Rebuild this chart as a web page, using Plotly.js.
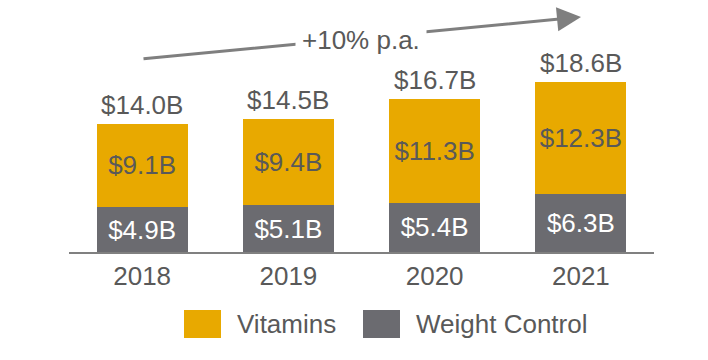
<!DOCTYPE html>
<html>
<head>
<meta charset="utf-8">
<script src="https://cdn.plot.ly/plotly-3.0.1.min.js"></script>
<style>html,body{margin:0;padding:0;background:#fff;}#chart{width:708px;height:360px;}</style>
</head>
<body>
<div id="chart"></div>
<script>
const years = ['2018', '2019', '2020', '2021'];
const weightControl = [4.9, 5.1, 5.4, 6.3];
const vitamins = [9.1, 9.4, 11.3, 12.3];
const totals = [14.0, 14.5, 16.7, 18.6];
const growthLabel = '+10% p.a.';

const GOLD = '#E8A900';
const GRAY = '#6B6B70';
const TXT = '#595959';
const FONT = '"Liberation Sans", Arial, sans-serif';
const FS = 26;
const fmt = v => '$' + v.toFixed(1) + 'B';

const traces = [
  {type: 'bar', name: 'Weight Control', x: years, y: weightControl,
   marker: {color: GRAY}, text: weightControl.map(fmt), textposition: 'inside',
   insidetextanchor: 'middle', textfont: {color: '#ffffff', size: FS, family: FONT},
   hoverinfo: 'none', showlegend: false},
  {type: 'bar', name: 'Vitamins', x: years, y: vitamins,
   marker: {color: GOLD}, text: vitamins.map(fmt), textposition: 'inside',
   insidetextanchor: 'middle', textfont: {color: TXT, size: FS, family: FONT},
   hoverinfo: 'none', showlegend: false}
];

const L = 69, R = 54, W = 708 - L - R, PH = 252;
const px = x => (x - L) / W;
const py = y => (PH - y) / PH;

const annotations = years.map((yr, i) => ({
  x: i, y: totals[i], xref: 'x', yref: 'y', text: fmt(totals[i]),
  showarrow: false, yanchor: 'bottom', yshift: 2,
  font: {size: FS, color: TXT, family: FONT}
}));
annotations.push({
  xref: 'paper', yref: 'paper', x: px(581), y: py(17), ax: 142 - 581, ay: 59 - 17,
  showarrow: true, arrowhead: 2, arrowsize: 1.6, arrowwidth: 3, arrowcolor: '#7F7F7F', text: ''
});
annotations.push({
  xref: 'paper', yref: 'paper', x: px(361), y: py(40), text: growthLabel, showarrow: false,
  bgcolor: '#ffffff', borderpad: 6, font: {size: FS, color: TXT, family: FONT},
  xanchor: 'center', yanchor: 'middle'
});
annotations.push({
  xref: 'paper', yref: 'paper', x: px(235), y: py(324), text: 'Vitamins', showarrow: false,
  xanchor: 'left', yanchor: 'middle', font: {size: FS, color: TXT, family: FONT}
});
annotations.push({
  xref: 'paper', yref: 'paper', x: px(414), y: py(324), text: 'Weight Control', showarrow: false,
  xanchor: 'left', yanchor: 'middle', font: {size: FS, color: TXT, family: FONT}
});

const shapes = [
  {type: 'rect', xref: 'paper', yref: 'paper', x0: px(184), x1: px(221), y0: py(338), y1: py(310),
   fillcolor: GOLD, line: {width: 0}},
  {type: 'rect', xref: 'paper', yref: 'paper', x0: px(363), x1: px(400), y0: py(338), y1: py(310),
   fillcolor: GRAY, line: {width: 0}}
];

const layout = {
  width: 708, height: 360,
  margin: {l: L, r: R, t: 0, b: 360 - PH},
  paper_bgcolor: '#ffffff', plot_bgcolor: '#ffffff',
  barmode: 'stack', bargap: 0.378,
  showlegend: false,
  font: {family: FONT, color: TXT},
  xaxis: {type: 'category', range: [-0.5, 3.5], showline: true, linecolor: '#808080', linewidth: 2,
          showgrid: false, zeroline: false, ticks: '', tickfont: {size: FS, color: TXT, family: FONT}},
  yaxis: {range: [0, 27.5], visible: false, showgrid: false, zeroline: false},
  annotations: annotations, shapes: shapes
};

Plotly.newPlot('chart', traces, layout, {displayModeBar: false, staticPlot: true});
</script>
</body>
</html>
